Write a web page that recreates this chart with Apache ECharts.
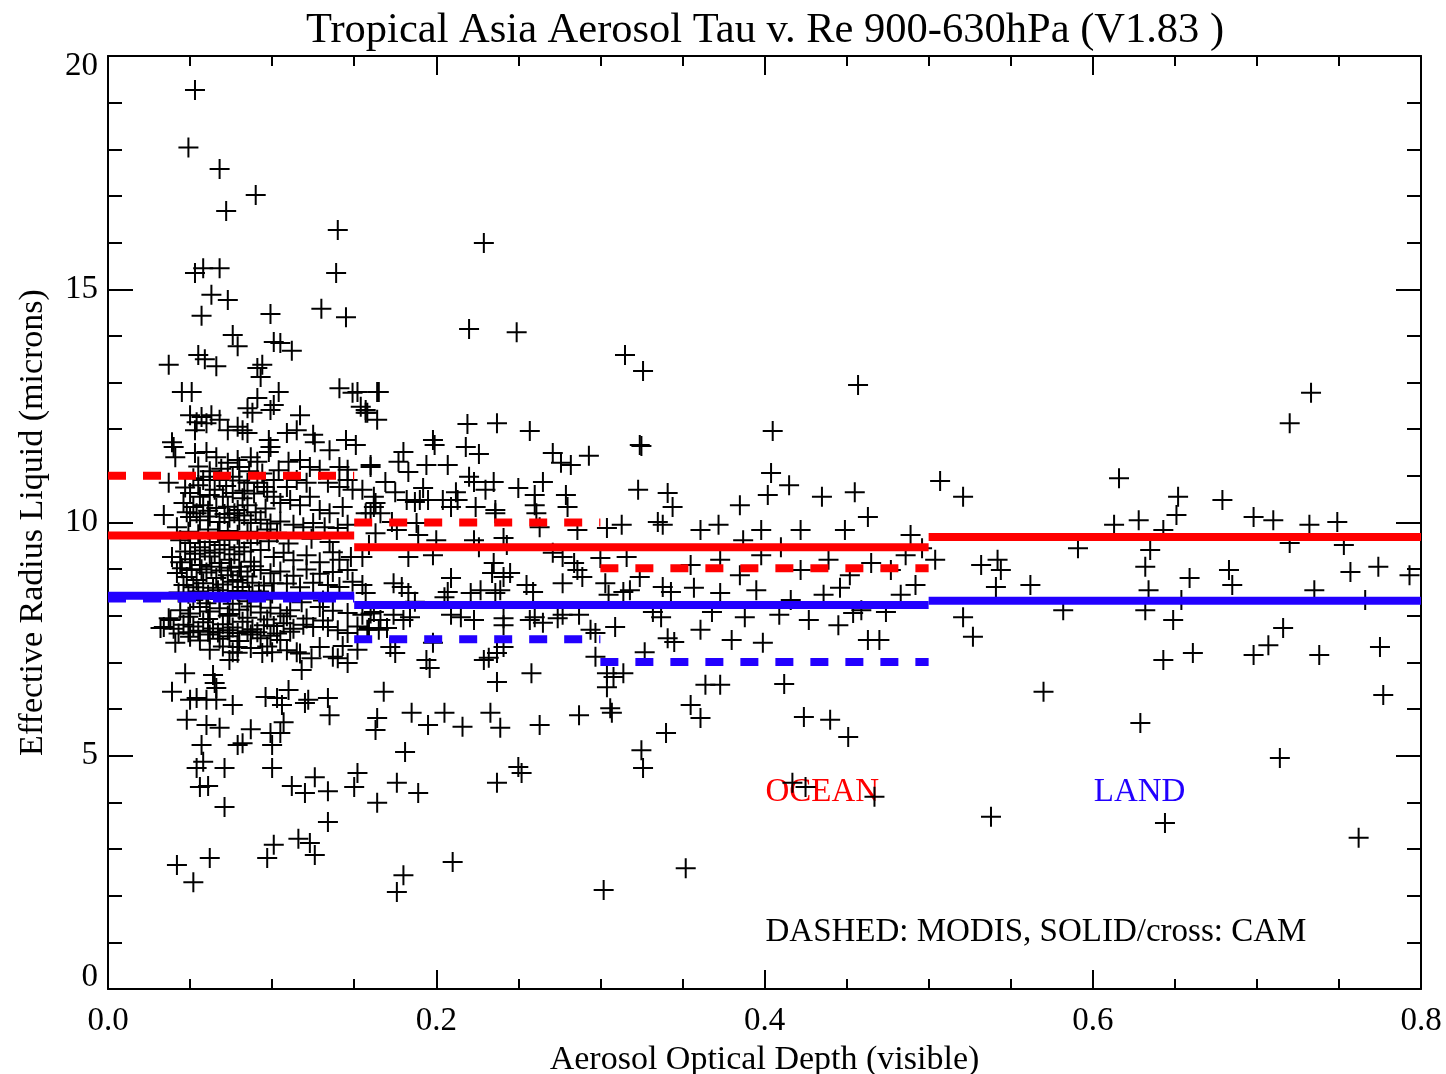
<!DOCTYPE html>
<html>
<head>
<meta charset="utf-8">
<script src="https://cdn.jsdelivr.net/npm/echarts@6.0.0/dist/echarts.min.js"></script>
<style>
html,body{margin:0;padding:0;background:#ffffff;}
#chart{width:1446px;height:1074px;}
</style>
</head>
<body>
<div id="chart"></div>
<script>
// ---------------- DATA ----------------
const titleText = 'Tropical Asia Aerosol Tau v. Re 900-630hPa (V1.83 )';
const xAxisName = 'Aerosol Optical Depth (visible)';
const yAxisName = 'Effective Radius Liquid (microns)';
const xTickRange = [0, 0.8];
const yTickRange = [0, 20];

// bin edges (aerosol optical depth)
const camEdges = [0, 0.15, 0.5, 0.8];
const modisEdges = [0, 0.15, 0.3, 0.5];
// bin mean effective radius
const camOcean = [9.72, 9.47, 9.69];
const camLand = [8.43, 8.23, 8.32];
const modisOcean = [11.00, 10.00, 9.02];
const modisLand = [8.37, 7.50, 7.01];

// CAM crosses, x < 0.15 (upper, sparse)
const crossesLowTop = [
[0.053,19.27],[0.049,18.04],[0.068,17.58],[0.090,17.02],[0.072,16.68],[0.140,16.27],[0.139,15.35],
[0.053,15.35],[0.058,15.45],[0.068,15.45],[0.063,14.88],[0.073,14.77],[0.057,14.43],[0.099,14.47],
[0.130,14.58],[0.145,14.40],[0.076,14.02],[0.079,13.78],[0.101,13.87],[0.105,13.85],[0.112,13.68],
[0.037,13.38],[0.055,13.59],[0.059,13.50],[0.066,13.35],[0.091,13.31],[0.094,13.38],[0.093,13.12],
[0.045,12.80],[0.051,12.80],[0.104,12.80],[0.141,12.88],[0.149,12.78],[0.091,12.67],
[0.088,12.35],[0.085,12.45],[0.099,12.41],[0.101,12.52],[0.117,12.30],[0.050,12.30],[0.054,12.15],
[0.057,12.26],[0.060,12.13],[0.063,12.30],[0.068,12.20],[0.053,11.98],[0.073,11.98],[0.079,12.05],
[0.082,11.98],[0.085,11.92],[0.098,11.77],[0.099,11.62],[0.098,11.51],[0.039,11.72],[0.040,11.62],
[0.109,11.92],[0.115,11.98],[0.125,11.88],[0.126,11.72],[0.145,11.77],[0.135,11.55],
[0.053,11.49],[0.060,11.51],[0.066,11.40],[0.073,11.28],[0.079,11.34],[0.080,11.19],[0.041,11.40],
[0.087,11.40],[0.091,11.30],[0.110,11.30],[0.117,11.34],[0.123,11.19],[0.129,11.13],[0.141,11.19],[0.146,11.13],
[0.055,11.20],[0.062,11.10],[0.069,11.15],[0.086,11.10],[0.094,11.05],[0.104,11.12]
];
// CAM crosses, x < 0.15 (dense core)
const crossesLowCore = [
[0.037,10.85],[0.052,10.95],[0.058,10.91],[0.062,10.98],[0.068,10.91],[0.076,10.98],[0.080,10.90],[0.085,10.85],
[0.091,10.85],[0.095,10.76],[0.101,10.91],[0.109,10.76],[0.115,10.91],[0.121,10.85],[0.134,10.85],[0.141,10.76],
[0.146,10.91],[0.149,10.70],
[0.047,10.75],[0.055,10.80],[0.065,10.70],[0.072,10.78],[0.083,10.68],[0.089,10.62],[0.097,10.66],
[0.050,10.63],[0.056,10.55],[0.062,10.59],[0.070,10.55],[0.076,10.63],[0.082,10.52],
[0.046,10.42],[0.052,10.33],[0.058,10.37],[0.066,10.31],[0.073,10.34],[0.079,10.27],[0.085,10.37],[0.034,10.16],
[0.101,10.55],[0.105,10.42],[0.111,10.48],[0.117,10.37],[0.123,10.55],[0.129,10.27],[0.135,10.20],[0.143,10.33],
[0.048,10.22],[0.054,10.20],[0.061,10.25],[0.071,10.18],[0.077,10.20],[0.083,10.15],[0.090,10.22],[0.096,10.30],
[0.050,10.12],[0.056,10.05],[0.062,10.13],[0.068,10.01],[0.074,10.10],[0.080,10.05],[0.087,9.99],[0.093,10.06],
[0.099,9.98],[0.105,10.02],[0.113,9.95],[0.119,9.90],[0.125,9.99],[0.132,9.90],[0.140,9.88],[0.146,9.95],[0.042,9.90],
[0.049,9.80],[0.055,9.75],[0.061,9.85],[0.067,9.78],[0.073,9.82],[0.079,9.74],[0.085,9.80],[0.091,9.72],[0.097,9.85],[0.103,9.78],
[0.044,9.62],[0.050,9.56],[0.056,9.47],[0.062,9.58],[0.068,9.52],[0.074,9.63],[0.080,9.47],[0.087,9.56],
[0.098,9.60],[0.110,9.55],[0.124,9.65],[0.135,9.58],
[0.047,9.38],[0.053,9.33],[0.059,9.40],[0.065,9.35],[0.071,9.42],[0.077,9.32],[0.083,9.38],
[0.039,9.26],[0.044,9.15],[0.050,9.21],[0.056,9.09],[0.062,9.27],[0.068,9.13],[0.074,9.20],[0.080,9.05],
[0.087,9.16],[0.093,9.41],[0.101,9.26],[0.107,9.35],[0.113,9.19],[0.121,9.30],[0.129,9.15],[0.137,9.36],
[0.141,9.20],[0.148,9.26],
[0.045,9.02],[0.051,8.98],[0.057,9.00],[0.063,9.05],[0.069,8.97],[0.075,9.03],[0.081,8.95],[0.089,9.06],
[0.042,8.92],[0.048,8.83],[0.054,8.77],[0.060,8.93],[0.066,8.81],[0.073,8.87],[0.079,8.77],[0.085,8.84],
[0.093,8.98],[0.099,8.91],[0.105,8.95],[0.113,8.86],[0.121,8.99],[0.129,8.90],[0.137,8.94],[0.146,8.98],
[0.046,8.66],[0.052,8.61],[0.058,8.70],[0.064,8.60],[0.070,8.67],[0.076,8.73],[0.082,8.62],[0.088,8.71],
[0.095,8.65],[0.101,8.70],[0.109,8.69],[0.117,8.61],[0.125,8.71],[0.134,8.66],[0.141,8.62],[0.149,8.73],
[0.043,8.50],[0.049,8.47],[0.055,8.52],[0.061,8.45],[0.067,8.55],[0.073,8.48],[0.079,8.53],[0.086,8.46],[0.092,8.52],[0.100,8.48],
[0.052,8.34],[0.060,8.27],[0.068,8.36],[0.076,8.26],[0.085,8.31],[0.093,8.35],[0.118,8.29],[0.131,8.33],
[0.044,8.12],[0.050,8.05],[0.056,8.19],[0.062,8.09],[0.068,8.16],[0.074,8.04],[0.080,8.13],[0.087,8.20],
[0.093,8.07],[0.099,8.17],[0.105,8.05],[0.111,8.12],
[0.037,7.95],[0.049,7.98],[0.061,7.93],[0.073,8.00],[0.085,7.96],[0.097,7.92],[0.109,7.99],[0.121,7.94],[0.131,7.90],
[0.034,7.76],[0.040,7.72],[0.046,7.81],[0.052,7.77],[0.058,7.86],[0.064,7.73],[0.070,7.82],[0.076,7.75],
[0.082,7.87],[0.088,7.71],[0.095,7.80],[0.101,7.78],[0.107,7.84],[0.113,7.72],[0.119,7.81],[0.125,7.76],
[0.038,7.91],[0.032,7.74],
[0.043,7.62],[0.049,7.65],[0.055,7.68],[0.061,7.66],[0.067,7.64],[0.073,7.69],[0.079,7.63],[0.085,7.67],
[0.091,7.65],[0.103,7.62],[0.111,7.66],
[0.050,7.55],[0.056,7.47],[0.062,7.60],[0.068,7.51],[0.074,7.56],[0.080,7.46],[0.087,7.60],[0.093,7.52],
[0.099,7.57],[0.105,7.48],
[0.134,7.76],[0.140,7.69],[0.146,7.63],[0.129,8.19],[0.137,8.11],[0.146,8.06],
[0.062,7.27],[0.070,7.34],[0.079,7.21],[0.087,7.31],[0.074,7.05],[0.097,7.34],[0.109,7.26],[0.117,7.19],
[0.129,7.33],[0.137,7.12],[0.143,7.35]
];
// CAM crosses, x < 0.15 (below 7.5)
const crossesLowBottom = [
[0.041,7.42],[0.076,7.22],[0.079,7.33],[0.094,7.20],[0.100,7.22],[0.115,7.22],[0.124,7.09],[0.140,7.09],
[0.146,6.99],[0.047,6.77],[0.064,6.73],[0.065,6.56],[0.066,6.45],[0.118,6.84],[0.039,6.37],[0.050,6.20],
[0.054,6.24],[0.060,6.20],[0.066,6.20],[0.076,6.09],[0.096,6.26],[0.103,6.24],[0.106,6.09],[0.110,6.41],
[0.122,6.20],[0.120,6.13],[0.134,6.24],[0.135,5.87],[0.048,5.77],[0.060,5.66],[0.068,5.60],[0.087,5.57],
[0.082,5.27],[0.079,5.23],[0.099,5.49],[0.105,5.49],[0.107,5.72],[0.100,5.23],[0.057,5.23],[0.058,4.87],
[0.054,4.74],[0.071,4.74],[0.100,4.74],[0.056,4.33],[0.061,4.35],[0.071,3.90],[0.112,4.35],[0.120,4.20],
[0.126,4.54],[0.134,4.24],[0.134,3.58],[0.116,3.22],[0.123,3.13],[0.126,2.87],[0.101,3.09],[0.097,2.81],
[0.042,2.66],[0.062,2.81],[0.052,2.29]
];
// CAM crosses, 0.15 <= x < 0.35
const crossesMid = [
[0.152,12.80],[0.165,12.80],[0.154,12.48],[0.158,12.35],[0.151,11.66],[0.160,11.19],[0.162,10.33],[0.160,10.20],
[0.152,7.77],[0.158,7.70],[0.160,8.05],[0.152,7.27],[0.152,4.63],[0.150,4.33],[0.164,3.99],[0.176,4.42],
[0.189,4.20],[0.181,5.08],[0.180,2.44],[0.176,2.08],
[0.229,15.99],[0.220,14.15],[0.249,14.08],[0.315,13.59],[0.326,13.25],[0.164,12.80],[0.157,12.41],[0.157,12.35],
[0.164,12.20],[0.219,12.11],[0.237,12.13],[0.257,11.96],[0.198,11.77],[0.199,11.66],[0.218,11.62],[0.226,11.47],
[0.325,11.64],[0.271,11.49],[0.276,11.28],[0.282,11.23],[0.293,11.43],[0.180,11.51],[0.177,11.30],[0.183,11.08],
[0.160,11.23],[0.194,11.23],[0.207,11.23],[0.169,10.87],[0.175,10.65],[0.192,10.74],[0.195,10.48],[0.220,10.98],
[0.223,10.87],[0.235,10.87],[0.230,10.70],[0.250,10.74],[0.265,10.87],[0.155,10.70],[0.162,10.55],[0.182,10.48],
[0.187,10.44],[0.204,10.48],[0.212,10.65],[0.213,10.48],[0.260,10.59],[0.260,10.37],[0.261,10.20],[0.279,10.59],
[0.280,10.33],[0.323,10.70],[0.341,10.63],[0.344,10.33],[0.236,10.27],[0.236,10.20],[0.224,10.33],[0.209,10.33],
[0.163,10.42],[0.166,10.20],[0.157,10.20],[0.190,10.48],[0.173,10.01],[0.176,9.84],[0.188,9.99],[0.189,9.73],
[0.200,9.62],[0.241,9.67],[0.243,9.52],[0.263,9.90],[0.286,9.84],[0.304,9.88],[0.313,9.95],[0.335,10.01],
[0.338,9.95],[0.163,9.77],[0.159,9.52],[0.155,9.26],[0.183,9.26],[0.198,9.30],[0.223,9.62],[0.226,9.47],
[0.235,9.13],[0.234,8.92],[0.241,8.83],[0.245,8.92],[0.271,9.35],[0.277,9.26],[0.284,9.13],[0.286,8.98],
[0.289,8.83],[0.300,9.24],[0.316,9.26],[0.209,8.81],[0.174,8.70],[0.179,8.62],[0.155,8.66],[0.157,8.49],
[0.183,8.49],[0.187,8.30],[0.205,8.40],[0.207,8.51],[0.221,8.49],[0.227,8.55],[0.236,8.49],[0.239,8.55],
[0.255,8.66],[0.259,8.51],[0.277,8.70],[0.303,8.70],[0.305,8.45],[0.314,8.51],[0.318,8.55],[0.324,8.83],
[0.338,8.62],[0.343,8.51],[0.155,8.02],[0.162,8.08],[0.166,7.91],[0.174,8.02],[0.180,7.91],[0.184,7.97],
[0.159,7.74],[0.165,7.70],[0.170,7.74],[0.209,8.02],[0.215,7.97],[0.223,7.91],[0.241,7.95],[0.241,7.80],
[0.257,7.91],[0.260,7.97],[0.265,7.85],[0.274,7.95],[0.277,8.02],[0.287,8.02],[0.294,7.70],[0.297,7.63],
[0.309,7.76],[0.332,8.08],[0.337,7.97],[0.341,7.52],[0.345,7.44],[0.172,7.33],[0.175,7.20],[0.198,7.42],
[0.241,7.33],[0.237,7.20],[0.194,7.05],[0.196,6.88],[0.229,7.05],[0.232,7.10],[0.297,7.12],[0.304,6.77],
[0.308,6.69],[0.314,6.77],[0.304,6.47],[0.327,7.22],[0.237,6.58],[0.258,6.77],[0.168,6.37],[0.164,5.81],
[0.163,5.55],[0.185,5.92],[0.195,5.66],[0.205,5.92],[0.216,5.62],[0.233,5.92],[0.239,5.60],[0.263,5.66],
[0.287,5.87],[0.306,6.02],[0.307,5.92],[0.340,5.49],[0.302,2.12],[0.210,2.72],[0.237,4.42],[0.250,4.76],
[0.252,4.63],[0.326,4.74],[0.325,5.12],[0.324,11.66]
];
// CAM crosses, x >= 0.35
const crossesHigh = [
[0.352,2.59],[0.355,6.09],[0.361,5.81],[0.364,6.52],[0.373,6.52],[0.412,6.54],[0.424,5.83],[0.440,5.77],
[0.451,5.40],[0.417,4.42],[0.425,4.33],[0.467,4.12],[0.463,7.48],[0.470,7.48],[0.459,8.12],[0.454,8.06],
[0.474,8.08],[0.399,7.42],[0.380,7.48],[0.388,7.97],[0.409,8.02],[0.427,7.91],[0.445,7.80],[0.361,7.70],
[0.368,8.08],[0.357,8.60],[0.373,8.49],[0.395,8.55],[0.416,8.34],[0.436,8.45],[0.446,8.60],[0.483,8.45],
[0.492,8.66],[0.355,9.09],[0.373,9.20],[0.385,8.87],[0.398,9.30],[0.410,9.47],[0.422,8.98],[0.439,9.20],
[0.452,8.87],[0.465,9.13],[0.477,8.98],[0.486,9.30],[0.496,9.45],[0.489,9.73],[0.361,9.84],[0.372,9.95],
[0.385,10.37],[0.402,10.59],[0.405,11.96],[0.404,11.06],[0.415,10.80],[0.435,10.55],[0.455,10.65],[0.463,10.12],
[0.457,12.95],[0.387,9.62],[0.398,9.84],[0.422,9.84],[0.449,9.84],[0.504,9.20],
[0.507,10.89],[0.521,10.55],[0.521,7.97],[0.527,7.55],[0.532,9.09],[0.542,9.20],[0.541,8.62],[0.544,8.98],
[0.538,3.69],[0.562,8.66],[0.570,6.37],[0.582,8.12],[0.591,9.45],[0.616,10.95],[0.613,9.95],[0.628,10.05],
[0.632,9.05],[0.635,9.41],[0.632,8.12],[0.643,9.84],[0.649,7.91],[0.643,7.05],[0.629,5.70],[0.644,3.56],
[0.652,10.55],[0.651,10.16],[0.654,8.34],[0.659,8.81],[0.661,7.20],[0.679,10.48],[0.683,8.98],[0.685,8.66],
[0.698,10.12],[0.698,7.16],[0.707,7.37],[0.710,10.05],[0.716,7.74],[0.714,4.95],[0.720,12.13],[0.720,9.56],
[0.733,12.78],[0.735,8.55],[0.738,7.16],[0.732,9.95],[0.749,10.01],[0.753,9.52],[0.757,8.94],[0.762,3.24],
[0.766,8.34],[0.774,9.05],[0.775,7.33],[0.777,6.30],[0.793,8.87],[0.634,8.55]
];

// annotation texts and their anchor points (data coords)
const noteTexts = ['OCEAN', 'LAND', 'DASHED: MODIS, SOLID/cross: CAM'];
const noteX = [0.4, 0.6, 0.4];
const noteY = [4.22, 4.22, 1.22];

// ---------------- CHART ----------------
const FONT = '"Liberation Serif", "Times New Roman", serif';
const RED = '#ff0000';
const BLUE = '#2200ff';
const noteColors = [RED, BLUE, '#000000'];
const crossPath = 'path://M0,9H20V11H0Z M9,0H11V20H9Z';

const allCrosses = [].concat(crossesLowTop, crossesLowCore, crossesLowBottom, crossesMid, crossesHigh);

function segSeries(edges, vals, color, dashed, name) {
  return vals.map((v, i) => ({
    name: name,
    type: 'line',
    xAxisIndex: 0, yAxisIndex: 0,
    data: [[edges[i], v], [edges[i + 1], v]],
    symbol: 'none',
    silent: true,
    z: 5,
    lineStyle: { color: color, width: 8, type: dashed ? [18, 17] : 'solid', cap: 'butt' }
  }));
}

const axisCommon = {
  type: 'value',
  axisLine: { show: true, onZero: false, lineStyle: { color: '#000', width: 2 } },
  splitLine: { show: false },
};

const yLabelStyle = { fontFamily: FONT, fontSize: 33, color: '#000' };

const option = {
  animation: false,
  backgroundColor: '#ffffff',
  title: {
    text: titleText,
    left: 301,
    top: 4,
    textStyle: { fontFamily: FONT, fontSize: 42.5, fontWeight: 'normal', color: '#000' }
  },
  grid: { left: 108, right: 25, top: 56, bottom: 85, containLabel: false, outerBoundsMode: 'none' },
  xAxis: [
    Object.assign({}, axisCommon, {
      position: 'bottom',
      min: xTickRange[0], max: xTickRange[1], interval: 0.2,
      axisTick: { show: true, inside: true, length: 19, lineStyle: { color: '#000', width: 2 } },
      minorTick: { show: true, splitNumber: 4, length: 10, lineStyle: { color: '#000', width: 2 } },
      axisLabel: { show: true, margin: 16, color: '#000', fontFamily: FONT, fontSize: 33,
        formatter: v => Number(v).toFixed(1) },
      name: xAxisName, nameLocation: 'middle', nameGap: 46,
      nameTextStyle: { fontFamily: FONT, fontSize: 34, color: '#000' }
    }),
    Object.assign({}, axisCommon, {
      position: 'top',
      min: xTickRange[0], max: xTickRange[1], interval: 0.2,
      axisTick: { show: true, inside: true, length: 19, lineStyle: { color: '#000', width: 2 } },
      minorTick: { show: true, splitNumber: 4, length: 10, lineStyle: { color: '#000', width: 2 } },
      axisLabel: { show: false }
    })
  ],
  yAxis: [
    Object.assign({}, axisCommon, {
      position: 'left',
      min: yTickRange[0], max: yTickRange[1], interval: 5,
      axisTick: { show: true, inside: true, length: 25, lineStyle: { color: '#000', width: 2 } },
      minorTick: { show: true, splitNumber: 5, length: 14, lineStyle: { color: '#000', width: 2 } },
      axisLabel: { show: true, margin: 10, color: '#000', fontFamily: FONT, fontSize: 33,
        formatter: v => (v === yTickRange[0] ? '{lo|' + v + '}' : (v === yTickRange[1] ? '{hi|' + v + '}' : '{mid|' + v + '}')),
        rich: {
          lo: Object.assign({ padding: [0, 0, 24, 0] }, yLabelStyle),
          hi: Object.assign({ padding: [20, 0, 0, 0] }, yLabelStyle),
          mid: Object.assign({}, yLabelStyle)
        } },
      name: yAxisName, nameLocation: 'middle', nameGap: 58, nameRotate: 90,
      nameTextStyle: { fontFamily: FONT, fontSize: 34, color: '#000' }
    }),
    Object.assign({}, axisCommon, {
      position: 'right',
      min: yTickRange[0], max: yTickRange[1], interval: 5,
      axisTick: { show: true, inside: true, length: 25, lineStyle: { color: '#000', width: 2 } },
      minorTick: { show: true, splitNumber: 5, length: 14, lineStyle: { color: '#000', width: 2 } },
      axisLabel: { show: false }
    })
  ],
  series: [
    {
      name: 'CAM',
      type: 'scatter',
      xAxisIndex: 0, yAxisIndex: 0,
      data: allCrosses,
      symbol: crossPath,
      symbolSize: 20,
      itemStyle: { color: '#000', opacity: 1 },
      silent: true,
      z: 2
    }
  ]
  .concat(segSeries(camEdges, camOcean, RED, false, 'CAM ocean'))
  .concat(segSeries(camEdges, camLand, BLUE, false, 'CAM land'))
  .concat(segSeries(modisEdges, modisOcean, RED, true, 'MODIS ocean'))
  .concat(segSeries(modisEdges, modisLand, BLUE, true, 'MODIS land'))
  .concat(noteTexts.map((t, i) => ({
    name: 'note' + i,
    type: 'scatter',
    xAxisIndex: 0, yAxisIndex: 0,
    data: [[noteX[i], noteY[i]]],
    symbolSize: 2,
    itemStyle: { color: 'rgba(0,0,0,0)', opacity: 1 },
    silent: true,
    z: 1,
    label: { show: true, position: 'right', distance: 0, formatter: t, opacity: 1,
      color: noteColors[i], fontFamily: FONT, fontSize: 33 }
  })))
};

const chart = echarts.init(document.getElementById('chart'), null, { renderer: 'canvas' });
chart.setOption(option);
</script>
</body>
</html>
